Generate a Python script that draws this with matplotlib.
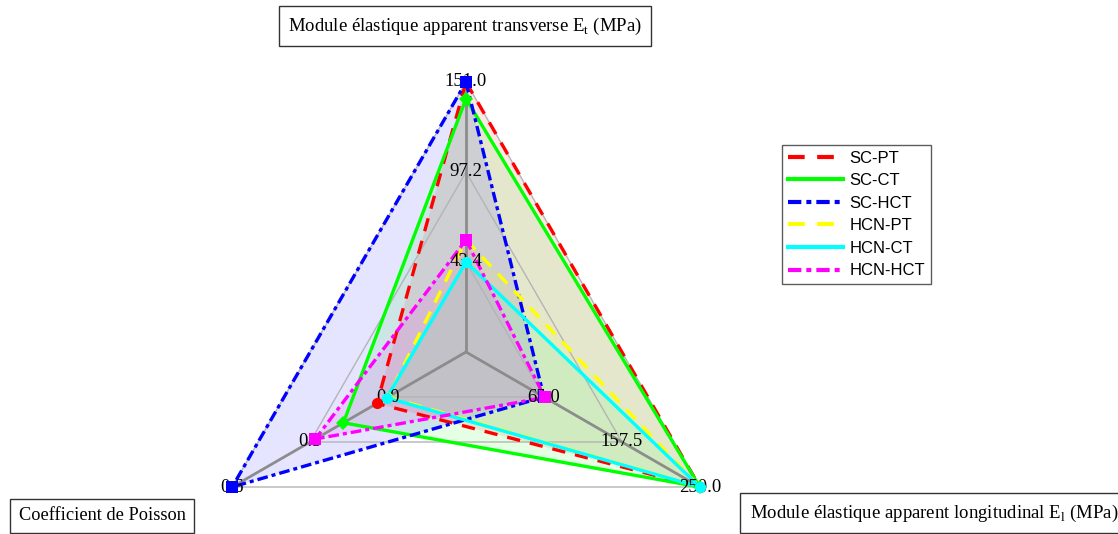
import numpy as np
import matplotlib
matplotlib.use("Agg")
import matplotlib.pyplot as plt
from matplotlib.lines import Line2D

# ---------------- data ----------------
axis_titles = ["Module élastique apparent transverse E$_\\mathregular{t}$ (MPa)",
               "Module élastique apparent longitudinal E$_\\mathregular{l}$ (MPa)",
               "Coefficient de Poisson"]
axis_ticks_et = [43.4, 97.2, 151.0]
axis_ticks_el = [65.0, 157.5, 250.0]
axis_ticks_nu = [0.0, 0.3, 0.6]

series_names = ["SC-PT", "SC-CT", "SC-HCT", "HCN-PT", "HCN-CT", "HCN-HCT"]
et_values = [151.0, 141.0, 151.0, 56.6, 43.4, 56.6]
el_values = [250.0, 250.0, 65.0, 250.0, 250.0, 66.0]
nu_values = [0.043, 0.172, 0.6, 0.0, 0.005, 0.28]

# ---------------- style ----------------
colors = ["#ff0000", "#00ff00", "#0000ff", "#ffff00", "#00ffff", "#ff00ff"]
linestyles = [(0, (4.0, 3.0)), "-", (0, (3.2, 1.2, 1.2, 1.2)),
              (0, (4.0, 3.0)), "-", (0, (3.2, 1.2, 1.2, 1.2))]
markers = ["o", "D", "s", "o", "o", "s"]
msizes = [8, 7, 8, 7, 8, 8]

W, H = 1118, 534
cx, cy, R = 466.0, 352.0, 270.0
angles = np.deg2rad([90.0, -30.0, 210.0])
all_ticks = [axis_ticks_et, axis_ticks_el, axis_ticks_nu]


def radius(v, ticks):
    lo, hi = ticks[0], ticks[-1]
    return (1.0 + 2.0 * (v - lo) / (hi - lo)) / 3.0


def to_xy(vals):
    rs = np.array([radius(v, t) for v, t in zip(vals, all_ticks)])
    return rs * np.cos(angles), rs * np.sin(angles)


plt.rcParams["font.family"] = ["Liberation Serif", "DejaVu Serif"]
plt.rcParams["mathtext.fontset"] = "custom"
plt.rcParams["mathtext.rm"] = "Liberation Serif"

fig = plt.figure(figsize=(W / 100, H / 100), dpi=100)
ax = fig.add_axes([0, 0, 1, 1])
ax.set_xlim(-cx / R, (W - cx) / R)
ax.set_ylim(-(H - cy) / R, cy / R)
ax.set_aspect("equal")
ax.axis("off")

# grid triangles
for k in (1, 2, 3):
    r = k / 3.0
    xs = np.append(r * np.cos(angles), r * np.cos(angles[0]))
    ys = np.append(r * np.sin(angles), r * np.sin(angles[0]))
    ax.plot(xs, ys, color="#b4b4b4", lw=1.0, zorder=1)
# spokes
for a in angles:
    ax.plot([0, np.cos(a)], [0, np.sin(a)], color="#8c8c8c", lw=2.0, zorder=1)

# series
for i, name in enumerate(series_names):
    xs, ys = to_xy([et_values[i], el_values[i], nu_values[i]])
    ax.fill(xs, ys, color=colors[i], alpha=0.1, lw=0, zorder=0.5)
    ax.plot(np.append(xs, xs[0]), np.append(ys, ys[0]), color=colors[i],
            lw=2.4, ls=linestyles[i], zorder=3, solid_capstyle="butt")
    ax.plot(xs, ys, ls="none", marker=markers[i], ms=msizes[i], color=colors[i],
            markeredgewidth=0, zorder=3.5)

# tick labels
for a, ticks in zip(angles, all_ticks):
    for k, t in enumerate(ticks):
        r = (k + 1) / 3.0
        ax.text(r * np.cos(a), r * np.sin(a), f"{t:.1f}", ha="center",
                va="center", fontsize=13.5, zorder=3.2)

# axis titles
box = dict(boxstyle="square,pad=0.5", fc="white", ec="#333333", lw=1.0)
fig.text(465 / W, 1 - 26 / H, axis_titles[0], ha="center", va="center",
         fontsize=13.5, bbox=box)
fig.text(934 / W, 1 - 513 / H, axis_titles[1], ha="center", va="center",
         fontsize=13.5, bbox=box)
fig.text(102 / W, 1 - 516 / H, axis_titles[2], ha="center", va="center",
         fontsize=13.2, bbox=dict(boxstyle="square,pad=0.45", fc="white",
                                  ec="#333333", lw=1.0))

# legend
handles = [Line2D([], [], color=colors[i], lw=3, ls=linestyles[i])
           for i in range(len(series_names))]
leg = fig.legend(handles, series_names, loc="upper left",
                 bbox_to_anchor=(782 / W, 1 - 145 / H),
                 prop={"family": "Liberation Sans", "size": 12},
                 frameon=True, fancybox=False, handlelength=3.3,
                 labelspacing=0.45, borderpad=0.35, handletextpad=0.4,
                 borderaxespad=0)
leg.get_frame().set_edgecolor("#333333")
leg.get_frame().set_linewidth(1.0)

fig.savefig("out.png", dpi=100)
